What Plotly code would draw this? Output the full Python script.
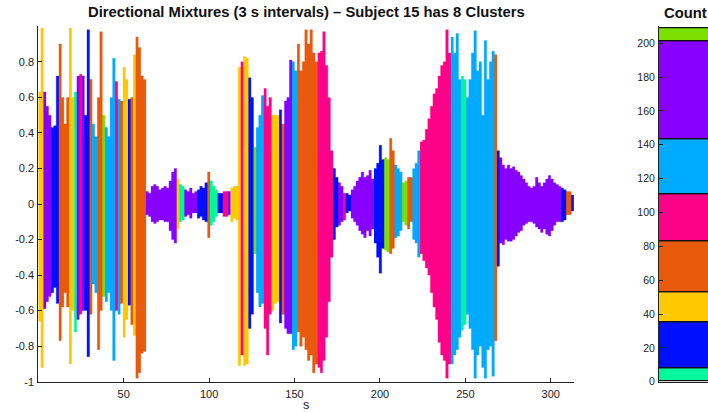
import plotly.graph_objects as go

# ---------------- data ----------------
interval_s = 1.5  # hop between 3 s analysis windows
cluster_codes = ["G", "B", "Y", "O", "K", "S", "P", "L"]
cluster_colors = ["#00F79A", "#0010FF", "#FFC800", "#E8590C",
                  "#FF0088", "#00AAFF", "#8800FF", "#7AE000"]
counts = [8, 27, 18, 30, 28, 32, 58, 8]

labels = ("YYPPPBBBOOOOYYGPKPBBOSSOOLSSSSKSOYYBOYOOOO"
          "PPPPPPPPPPPPYGGPPPPPBBBBOGGGBBKKPYYYYKYYBB"
          "LSSSKKKYYYBOPPPSSOOOOOOOOKKKKKKBBPPKBBPPPPPPPPP"
          "BBBBLLOOSSSLLOOSSSKKKKKKKKKKKKSSSSGGSSSSSSSSSSSOB"
          "PPPPPPPPPPPPPPPPPPPPPPPPBBOOB")

upper = [
    0.63, 0.99, 0.63, 0.55, 0.50, 0.43, 0.44, 0.72, 0.90, 0.60, 0.45, 0.60, 0.99, 0.60,
    0.63, 0.72, 0.73, 0.72, 0.50, 0.98, 0.70, 0.45, 0.38, 0.60, 0.97, 0.50, 0.43, 0.38,
    0.60, 0.82, 0.69, 0.59, 0.58, 0.77, 0.70, 0.59, 0.60, 0.84, 0.94, 0.88, 0.72, 0.70,
    0.07, 0.06, 0.10, 0.11, 0.10, 0.08, 0.09, 0.10, 0.09, 0.13, 0.18, 0.20, 0.14, 0.11,
    0.10, 0.08, 0.07, 0.09, 0.06, 0.07, 0.08, 0.10, 0.09, 0.12, 0.18, 0.13, 0.10, 0.08,
    0.06, 0.06, 0.07, 0.07, 0.07, 0.09, 0.10, 0.10, 0.77, 0.80, 0.83, 0.82, 0.71, 0.60,
    0.32, 0.43, 0.50, 0.61, 0.65, 0.55, 0.60, 0.50, 0.50, 0.50, 0.53, 0.45, 0.58, 0.60,
    0.81, 0.80, 0.75, 0.90, 0.75, 0.80, 0.98, 0.90, 0.98, 0.85, 0.80, 0.85, 0.86, 0.97,
    0.78, 0.60, 0.30, 0.20, 0.15, 0.12, 0.10, 0.06, 0.06, 0.05, 0.08, 0.10, 0.13, 0.15,
    0.18, 0.15, 0.16, 0.19, 0.14,
    0.20, 0.23, 0.33, 0.25, 0.26, 0.25, 0.37, 0.30, 0.22, 0.20, 0.18, 0.12, 0.13, 0.15,
    0.15, 0.20, 0.23, 0.30, 0.35, 0.36, 0.42, 0.48, 0.55, 0.62, 0.65, 0.72, 0.78, 0.80,
    0.98, 0.85, 0.94, 0.85, 0.96, 0.70, 0.72, 0.70, 0.60, 0.70, 0.85, 0.975, 0.75, 0.80,
    0.50, 0.92, 0.70, 0.80, 0.86, 0.84, 0.30,
    0.26, 0.22, 0.20, 0.22, 0.20, 0.21, 0.19, 0.18, 0.16, 0.14, 0.12, 0.10, 0.09, 0.10,
    0.15, 0.12, 0.10, 0.12, 0.14, 0.16, 0.14, 0.12, 0.11, 0.10,
    0.09, 0.08, 0.07, 0.07, 0.05,
]

lower = [
    -0.66, -0.92, -0.59, -0.55, -0.52, -0.50, -0.47, -0.56, -0.77, -0.58, -0.50, -0.58, -0.90, -0.60,
    -0.72, -0.65, -0.62, -0.60, -0.60, -0.86, -0.62, -0.45, -0.50, -0.82, -0.60, -0.52, -0.55, -0.50,
    -0.60, -0.88, -0.60, -0.62, -0.56, -0.75, -0.65, -0.57, -0.68, -0.74, -0.98, -0.95, -0.84, -0.83,
    -0.06, -0.07, -0.10, -0.11, -0.10, -0.09, -0.09, -0.10, -0.10, -0.15, -0.20, -0.22, -0.14, -0.10,
    -0.09, -0.07, -0.06, -0.08, -0.05, -0.05, -0.08, -0.07, -0.09, -0.10, -0.19, -0.12, -0.10, -0.07,
    -0.05, -0.05, -0.07, -0.07, -0.06, -0.10, -0.08, -0.09, -0.91, -0.85, -0.91, -0.90, -0.70, -0.62,
    -0.28, -0.50, -0.58, -0.56, -0.70, -0.85, -0.62, -0.60, -0.56, -0.55, -0.67, -0.62, -0.70, -0.73,
    -0.73, -0.82, -0.80, -0.72, -0.80, -0.75, -0.82, -0.88, -0.85, -0.95, -0.90, -0.92, -0.95, -0.88,
    -0.75, -0.55, -0.30, -0.20, -0.13, -0.12, -0.10, -0.09, -0.05, -0.04, -0.08, -0.10, -0.12, -0.15,
    -0.17, -0.19, -0.15, -0.18, -0.14,
    -0.22, -0.30, -0.39, -0.25, -0.26, -0.27, -0.28, -0.25, -0.19, -0.18, -0.15, -0.10, -0.12, -0.14,
    -0.10, -0.20, -0.22, -0.30, -0.28, -0.32, -0.36, -0.40, -0.50, -0.58, -0.65, -0.78, -0.85, -0.88,
    -0.98, -0.90, -0.90, -0.85, -0.82, -0.75, -0.71, -0.68, -0.62, -0.70, -0.82, -0.98, -0.85, -0.80,
    -0.92, -0.98, -0.82, -0.80, -0.97, -0.77, -0.35,
    -0.22, -0.23, -0.20, -0.21, -0.21, -0.20, -0.18, -0.16, -0.15, -0.12, -0.11, -0.10, -0.10, -0.11,
    -0.13, -0.14, -0.16, -0.14, -0.17, -0.18, -0.15, -0.12, -0.10, -0.10,
    -0.10, -0.09, -0.06, -0.06, -0.04,
]

x_ticks = [50, 100, 150, 200, 250, 300]
y_ticks = [-1, -0.8, -0.6, -0.4, -0.2, 0, 0.2, 0.4, 0.6, 0.8]
y_tick_text = ["-1", "-0.8", "-0.6", "-0.4", "-0.2", "0", "0.2", "0.4", "0.6", "0.8"]
count_ticks = [0, 20, 40, 60, 80, 100, 120, 140, 160, 180, 200]

n = min(len(labels), len(upper), len(lower))

# ---------------- figure ----------------
W, H = 708, 412
FONT = "Liberation Sans, Arial, Helvetica, sans-serif"
INK = "#222222"
color_of = dict(zip(cluster_codes, cluster_colors))
OVERLAP = 0.4  # seconds each run is tucked under the next one (hides seams)

fig = go.Figure()

# group consecutive intervals with the same cluster into one filled envelope
runs = []
start = 0
for i in range(1, n + 1):
    if i == n or labels[i] != labels[start]:
        runs.append((start, i))
        start = i

for a, b in runs:
    xs, ys = [], []
    for i in range(a, b):
        t0 = interval_s * i
        xs += [t0, t0 + interval_s]
        ys += [upper[i], upper[i]]
    t_end = interval_s * b
    if b < n:
        u_ext = min(upper[b - 1], upper[b])
        l_ext = max(lower[b - 1], lower[b])
        xs += [t_end, t_end + OVERLAP, t_end + OVERLAP, t_end]
        ys += [u_ext, u_ext, l_ext, l_ext]
    for i in range(b - 1, a - 1, -1):
        t0 = interval_s * i
        xs += [t0 + interval_s, t0]
        ys += [lower[i], lower[i]]
    col = color_of[labels[a]]
    fig.add_trace(go.Scatter(
        x=xs, y=ys, mode="lines", fill="toself", fillcolor=col,
        line=dict(color=col, width=0.3), xaxis="x", yaxis="y",
        showlegend=False, hoverinfo="skip",
    ))

base = 0
for code, col, cnt in zip(cluster_codes, cluster_colors, counts):
    fig.add_trace(go.Bar(
        x=[0], y=[cnt], base=[base], width=1,
        marker=dict(color=col, line=dict(color="#111111", width=1.2)),
        xaxis="x2", yaxis="y2", showlegend=False, name=code,
    ))
    base += cnt

x0, x1 = 38.3, 574.0
ytop, ybot = 26.3, 381.7
dom_y = [(H - ybot) / H, (H - ytop) / H]

axis_common = dict(showgrid=False, zeroline=False, showline=True, linecolor=INK,
                   linewidth=1, ticks="inside", ticklen=4, tickcolor=INK,
                   automargin=False,
                   tickfont=dict(family=FONT, size=11, color=INK))

fig.update_layout(
    width=W, height=H, autosize=False,
    margin=dict(l=0, r=0, t=0, b=0, autoexpand=False),
    paper_bgcolor="white", plot_bgcolor="white",
    barmode="overlay", bargap=0,
    font=dict(family=FONT, color=INK),
    xaxis=dict(domain=[x0 / W, x1 / W], range=[0, 313.6],
               tickmode="array", tickvals=x_ticks, ticklabelstandoff=2, **axis_common),
    yaxis=dict(domain=dom_y, range=[-1, 1], tickmode="array",
               tickvals=y_ticks, ticktext=y_tick_text, ticklabelstandoff=1, **axis_common),
    xaxis2=dict(domain=[659 / W, 1.0], range=[-0.5, 0.45], anchor="y2",
                showticklabels=False, showgrid=False, zeroline=False, automargin=False,
                showline=True, linecolor=INK, ticks=""),
    yaxis2=dict(domain=dom_y, range=[0, 210], anchor="x2", tickmode="array",
                tickvals=count_ticks, ticklabelstandoff=1,
                **{**axis_common, "tickfont": dict(family=FONT, size=10.5, color=INK)}),
    annotations=[
        dict(text="<b>Directional Mixtures (3 s intervals) – Subject 15 has 8 Clusters</b>",
             x=306 / W, y=(H - 12) / H, xref="paper", yref="paper",
             xanchor="center", yanchor="middle", showarrow=False,
             font=dict(family=FONT, size=14.8, color="#111111")),
        dict(text="<b>Count</b>", x=685 / W, y=(H - 13) / H, xref="paper", yref="paper",
             xanchor="center", yanchor="middle", showarrow=False,
             font=dict(family=FONT, size=14.8, color="#111111")),
        dict(text="s", x=306 / W, y=(H - 405) / H, xref="paper", yref="paper",
             xanchor="center", yanchor="middle", showarrow=False,
             font=dict(family=FONT, size=12.5, color=INK)),
    ],
)

fig.write_html("out.html")
